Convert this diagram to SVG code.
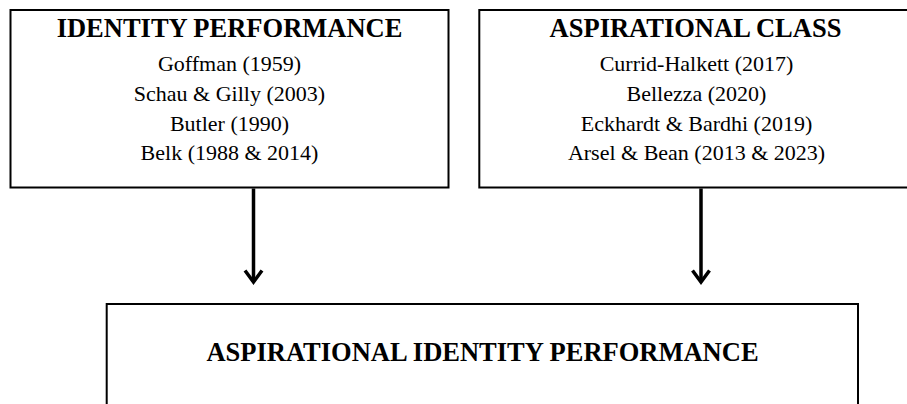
<svg xmlns="http://www.w3.org/2000/svg" width="907" height="404" viewBox="0 0 907 404">
<style>
.box{fill:#fff;stroke:#000;stroke-width:2}
.t{font-family:"Liberation Serif","Times New Roman",serif;font-weight:bold;font-size:26.5px;fill:#000;text-anchor:middle}
.b{font-family:"Liberation Serif","Times New Roman",serif;font-size:22px;fill:#000;text-anchor:middle}
.c{stroke:#000;stroke-width:3.5;fill:none}
</style>
<rect width="907" height="404" fill="#fff"/>
<g id="identity-performance">
<rect class="box" x="10.5" y="10" width="438" height="177.5"/>
<text class="t" x="229.5" y="37">IDENTITY PERFORMANCE</text>
<text class="b" x="229.5" y="71">Goffman (1959)</text>
<text class="b" x="229.5" y="101">Schau &amp; Gilly (2003)</text>
<text class="b" x="229.5" y="130.5">Butler (1990)</text>
<text class="b" x="229.5" y="160">Belk (1988 &amp; 2014)</text>
</g>
<g id="aspirational-class">
<rect class="box" x="479.3" y="10" width="432" height="177.5"/>
<text class="t" x="695.5" y="37">ASPIRATIONAL CLASS</text>
<text class="b" x="696.5" y="71">Currid-Halkett (2017)</text>
<text class="b" x="696.5" y="101">Bellezza (2020)</text>
<text class="b" x="696.5" y="130.5">Eckhardt &amp; Bardhi (2019)</text>
<text class="b" x="696.5" y="160">Arsel &amp; Bean (2013 &amp; 2023)</text>
</g>
<g id="aspirational-identity-performance">
<rect class="box" x="106.7" y="304" width="751.3" height="130"/>
<text class="t" x="482.5" y="361">ASPIRATIONAL IDENTITY PERFORMANCE</text>
</g>
<g id="connectors">
<path class="c" d="M253.5 188.5 V282"/>
<path class="c" d="M245 270.5 L253.5 282 L262 270.5"/>
<path class="c" d="M701 188.5 V282"/>
<path class="c" d="M692.5 270.5 L701 282 L709.5 270.5"/>
</g>
</svg>
